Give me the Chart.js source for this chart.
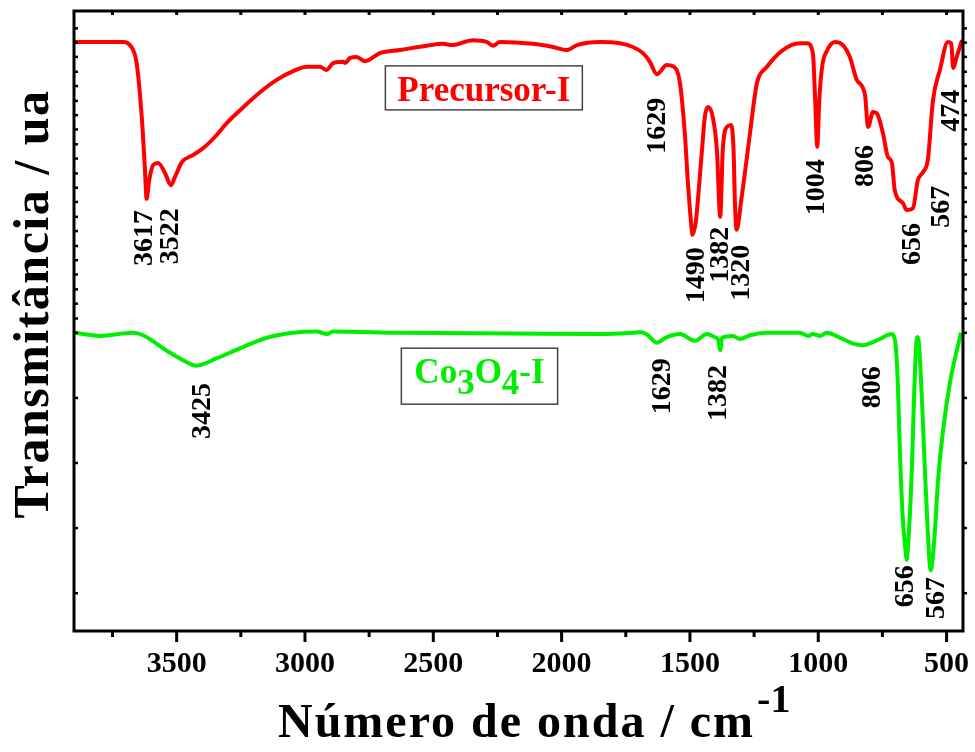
<!DOCTYPE html>
<html><head><meta charset="utf-8">
<script src="https://cdn.jsdelivr.net/npm/chart.js@4/dist/chart.umd.min.js"></script>
<style>html,body{margin:0;padding:0;background:#fff;}canvas{display:block;}</style>
</head><body>
<canvas id="c" width="975" height="752"></canvas>
<script>
// ---- data ----
const precursorWavenumbers = [3900,3708,3682,3656,3636,3624,3617,3607,3591,3572,3546,3522,3507,3480,3435,3396,3344,3305,3253,3175,3110,3046,2993,2942,2916,2890,2851,2844,2825,2799,2766,2708,2630,2525,2462,2427,2346,2291,2268,2240,2112,2034,1979,1940,1851,1773,1722,1683,1656,1629,1590,1566,1539,1520,1508,1496,1490,1477,1469,1453,1442,1430,1411,1395,1382,1372,1356,1340,1330,1325,1318,1300,1266,1250,1239,1200,1138,1072,1044,1021,1012,1004,996,985,967,935,904,877,850,818,806,787,772,748,729,713,702,670,656,631,612,592,573,553,526,495,482,474,462,440];
const precursorValues = [95.0,95.0,94.5,91.6,82.9,74.8,69.7,72.7,75.2,75.5,73.9,71.9,73.2,75.6,76.8,77.9,80.0,81.9,84.0,86.9,88.9,90.3,91.0,91.0,90.5,91.6,91.8,91.6,92.4,92.6,91.9,93.2,93.7,94.4,94.7,94.5,95.3,95.0,94.4,95.0,94.7,94.2,93.7,94.5,95.0,94.8,94.2,93.2,91.8,89.8,91.3,91.1,88.4,80.3,72.4,66.0,63.9,66.0,69.5,77.6,82.9,84.5,82.9,77.6,66.8,77.6,81.3,81.6,77.6,69.5,64.7,69.5,80.3,85.5,88.4,91.0,93.7,94.8,94.8,93.2,85.6,78.1,85.6,91.0,93.5,95.0,94.5,92.6,88.9,86.5,81.3,83.7,83.5,80.3,76.5,75.5,71.1,69.0,67.9,68.2,72.7,74.0,76.0,85.6,90.5,95.0,94.8,90.8,92.4,95.3];

const co3o4Wavenumbers = [3896,3799,3670,3631,3538,3448,3425,3343,3253,3148,3047,2953,2914,2891,2630,2200,1851,1722,1687,1664,1629,1590,1539,1481,1434,1403,1390,1382,1375,1333,1305,1266,1200,1072,1040,1021,994,967,916,860,826,787,760,713,701,690,682,671,659,656,647,635,627,619,612,608,596,585,573,562,546,534,515,487,444];
const co3o4Values = [48.1,47.6,48.1,47.7,45.2,43.1,42.8,44.0,45.6,47.3,48.1,48.3,47.9,48.3,48.1,48.0,47.9,48.1,48.2,47.7,46.5,47.4,47.9,46.8,47.9,47.4,47.0,45.3,47.3,47.6,47.1,47.7,48.1,48.1,47.6,47.9,47.6,48.1,47.3,46.3,46.1,46.6,47.1,47.9,46.9,40.0,29.2,18.4,12.6,11.5,15.8,26.5,37.3,45.8,47.4,46.5,37.3,26.5,15.8,9.8,15.8,23.9,31.9,40.0,48.1];

const xTickValues = [3500,3000,2500,2000,1500,1000,500];
const xTickLabels = ['3500','3000','2500','2000','1500','1000','500'];
const xMinorTickValues = [3750,3250,2750,2250,1750,1250,750];
const yTickValues = [97.2,94.9,92.6,90.2,87.9,85.5,83.2,80.9,78.5,76.2,73.8,71.5,69.2,66.8,64.5,62.1,59.8,57.5,55.1,52.8,50.4,48.1,37.6,27.1,16.6,6.1];

// peak annotations: text, wavenumber of label centre, value at label top
const precursorPeakTexts = ['3617','3522','1629','1490','1382','1320','1004','806','656','567','474'];
const precursorPeakAt    = [3623,3522,1627,1473,1379,1298,1004,815,633,518,479];
const precursorPeakTop   = [67.9,68.2,86.0,61.9,65.2,62.3,76.1,78.4,65.8,71.8,87.3];
const co3o4PeakTexts = ['3425','1629','1382','806','656','567'];
const co3o4PeakAt    = [3399,1605,1387,787,658,540];
const co3o4PeakTop   = [40.0,44.0,42.9,42.7,10.6,8.7];

const seriesNames = ['Precursor-I','Co3O4-I'];
const FONT = '"Liberation Serif","Times New Roman",serif';

const toPts = (xs, ys) => xs.map((v,i)=>({x:v, y:ys[i]}));

const decor = {
  id:'decor',
  afterDatasetsDraw(chart){
    const {ctx, chartArea:a, scales:{x,y}} = chart;
    ctx.save();
    // peak labels
    ctx.fillStyle = '#000';
    ctx.font = 'bold 28px ' + FONT;
    ctx.textAlign = 'right';
    ctx.textBaseline = 'middle';
    const drawPeaks = (texts, at, top) => texts.forEach((t,i)=>{
      ctx.save();
      ctx.translate(x.getPixelForValue(at[i]), y.getPixelForValue(top[i]));
      ctx.rotate(-Math.PI/2);
      ctx.fillText(t,0,0);
      ctx.restore();
    });
    drawPeaks(precursorPeakTexts, precursorPeakAt, precursorPeakTop);
    drawPeaks(co3o4PeakTexts, co3o4PeakAt, co3o4PeakTop);

    // legend boxes
    ctx.textAlign = 'left';
    ctx.textBaseline = 'alphabetic';
    {
      const cx = x.getPixelForValue(2303), cy = y.getPixelForValue(87.6);
      ctx.font = 'bold 35px ' + FONT;
      const w = ctx.measureText(seriesNames[0]).width;
      const bw = w + 24, bh = 44;
      ctx.fillStyle = '#fff';
      ctx.fillRect(cx-bw/2, cy-bh/2, bw, bh);
      ctx.strokeStyle = '#444'; ctx.lineWidth = 1.5;
      ctx.strokeRect(cx-bw/2, cy-bh/2, bw, bh);
      ctx.fillStyle = '#ff0000';
      ctx.fillText(seriesNames[0], cx - w/2, cy + 13.5);
    }
    {
      const cx = x.getPixelForValue(2320), cy = y.getPixelForValue(41.1);
      const parts = [['Co',0],['3',1],['O',0],['4',1],['-I',0]];
      let w = 0;
      ctx.font = 'bold 35px ' + FONT;
      parts.forEach(p=>{ w += ctx.measureText(p[0]).width; });
      const bw = w + 26, bh = 56;
      ctx.fillStyle = '#fff';
      ctx.fillRect(cx-bw/2, cy-bh/2, bw, bh);
      ctx.strokeStyle = '#444'; ctx.lineWidth = 1.5;
      ctx.strokeRect(cx-bw/2, cy-bh/2, bw, bh);
      ctx.fillStyle = '#00ee00';
      let px = cx - w/2;
      parts.forEach(p=>{
        ctx.fillText(p[0], px, cy + 7 + (p[1] ? 11 : 0));
        px += ctx.measureText(p[0]).width;
      });
    }

    // frame and ticks
    ctx.strokeStyle = '#000';
    ctx.lineWidth = 3;
    ctx.strokeRect(a.left, a.top, a.right - a.left, a.bottom - a.top);
    const vline = (px, y0, y1) => { ctx.beginPath(); ctx.moveTo(px,y0); ctx.lineTo(px,y1); ctx.stroke(); };
    const hline = (py, x0, x1) => { ctx.beginPath(); ctx.moveTo(x0,py); ctx.lineTo(x1,py); ctx.stroke(); };
    xTickValues.forEach(v=>{ const p = x.getPixelForValue(v); vline(p, a.bottom, a.bottom+11); vline(p, a.top, a.top+4); });
    xMinorTickValues.forEach(v=>{ const p = x.getPixelForValue(v); vline(p, a.bottom, a.bottom+6); vline(p, a.top, a.top+4); });
    ctx.lineWidth = 2.5;
    yTickValues.forEach(v=>{ const p = y.getPixelForValue(v); hline(p, a.left, a.left+4); hline(p, a.right, a.right+4); });
    ctx.restore();
  },
  afterDraw(chart){
    const {ctx} = chart;
    ctx.save();
    ctx.fillStyle = '#000';
    ctx.font = 'bold 48px ' + FONT;
    ctx.letterSpacing = '2px';
    ctx.textAlign = 'left';
    ctx.textBaseline = 'alphabetic';
    const main = 'Número de onda / cm';
    ctx.fillText(main, 278, 737);
    const mw = ctx.measureText(main).width;
    ctx.font = 'bold 40px ' + FONT;
    ctx.letterSpacing = '0px';
    ctx.fillText('-1', 278 + mw + 2, 712);
    ctx.font = 'bold 50px ' + FONT;
    ctx.letterSpacing = '1.5px';
    ctx.textAlign = 'center';
    ctx.translate(48, 304);
    ctx.rotate(-Math.PI/2);
    ctx.fillText('Transmitância / ua', 0, 0);
    ctx.restore();
  }
};

new Chart(document.getElementById('c'), {
  type: 'line',
  data: {
    datasets: [
      { label: seriesNames[0], data: toPts(precursorWavenumbers, precursorValues), borderColor: '#ff0000', borderWidth: 4, pointRadius: 0, fill: false, cubicInterpolationMode: 'monotone' },
      { label: seriesNames[1], data: toPts(co3o4Wavenumbers, co3o4Values), borderColor: '#00ee00', borderWidth: 4, pointRadius: 0, fill: false, cubicInterpolationMode: 'monotone' }
    ]
  },
  options: {
    responsive: false,
    animation: false,
    devicePixelRatio: 1,
    layout: { padding: { top: 11, right: 12, left: 0, bottom: 0 } },
    plugins: { legend: { display: false }, tooltip: { enabled: false } },
    scales: {
      x: {
        type: 'linear', reverse: true, min: 436, max: 3900,
        grid: { display: false, drawTicks: false }, border: { display: false },
        afterBuildTicks: s => { s.ticks = xTickValues.map(v=>({value:v})); },
        afterFit: s => { s.height = 121; s.paddingLeft = 0; s.paddingRight = 0; },
        ticks: {
          autoSkip: false, maxRotation: 0, minRotation: 0, padding: 15, color: '#000',
          font: { family: FONT, size: 30, weight: 'bold' },
          callback: v => xTickLabels[xTickValues.indexOf(v)]
        }
      },
      y: {
        type: 'linear', min: 0, max: 100,
        grid: { display: false, drawTicks: false }, border: { display: false },
        ticks: { display: false },
        afterFit: s => { s.width = 74; }
      }
    }
  },
  plugins: [decor]
});
</script>
</body></html>
